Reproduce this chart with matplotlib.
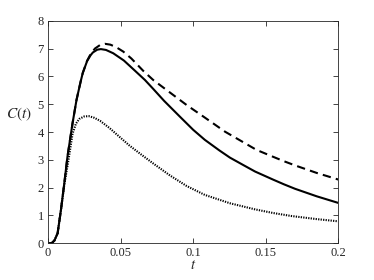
import matplotlib
matplotlib.use('Agg')
import matplotlib.pyplot as plt

plt.rcParams['font.family'] = ['Liberation Serif', 'DejaVu Serif']
plt.rcParams['mathtext.fontset'] = 'stix'

# solid curve
t_solid = [0, 0.0025, 0.0045, 0.0067, 0.009, 0.0113, 0.0135, 0.017, 0.0197, 0.0225,
           0.024, 0.027, 0.0294, 0.031, 0.034, 0.0365, 0.040, 0.045, 0.0523, 0.060,
           0.0668, 0.0725, 0.080, 0.0909, 0.100, 0.108, 0.118, 0.1253, 0.1346, 0.1426,
           0.155, 0.1625, 0.1701, 0.185, 0.200]
c_solid = [0, 0, 0.1, 0.36, 1.2, 2.16, 3.12, 4.32, 5.15, 5.80,
           6.12, 6.55, 6.76, 6.86, 6.96, 6.98, 6.95, 6.83, 6.57, 6.20,
           5.87, 5.55, 5.12, 4.55, 4.08, 3.72, 3.34, 3.08, 2.81, 2.58,
           2.29, 2.12, 1.96, 1.69, 1.45]

# dashed curve
t_dashed = [0, 0.0025, 0.0045, 0.0067, 0.009, 0.0113, 0.0135, 0.017, 0.0197, 0.0225,
            0.024, 0.027, 0.0294, 0.0324, 0.036, 0.0393, 0.043, 0.047, 0.0519, 0.0575,
            0.0656, 0.0725, 0.0835, 0.0955, 0.108, 0.122, 0.1326, 0.1435, 0.155, 0.1625,
            0.1701, 0.185, 0.200]
c_dashed = [0, 0, 0.1, 0.36, 1.2, 2.16, 3.12, 4.32, 5.15, 5.80,
            6.12, 6.56, 6.80, 7.00, 7.13, 7.17, 7.14, 7.05, 6.89, 6.64,
            6.20, 5.87, 5.44, 4.97, 4.52, 4.01, 3.69, 3.36, 3.11, 2.95,
            2.80, 2.53, 2.29]

# dotted curve
t_dotted = [0, 0.0025, 0.0045, 0.0067, 0.009, 0.0113, 0.0142, 0.017, 0.0193, 0.0216,
            0.025, 0.0282, 0.032, 0.036, 0.0425, 0.049, 0.056, 0.064, 0.0725, 0.084,
            0.0955, 0.108, 0.1253, 0.1426, 0.155, 0.1678, 0.185, 0.200]
c_dotted = [0, 0, 0.1, 0.36, 1.2, 2.1, 3.0, 3.94, 4.30, 4.47,
            4.56, 4.57, 4.51, 4.40, 4.14, 3.84, 3.52, 3.20, 2.87, 2.44,
            2.06, 1.74, 1.44, 1.22, 1.09, 0.98, 0.87, 0.79]

x_ticks = [0, 0.05, 0.1, 0.15, 0.2]
x_ticklabels = ['0', '0.05', '0.1', '0.15', '0.2']
y_ticks = [0, 1, 2, 3, 4, 5, 6, 7, 8]

fig = plt.figure(figsize=(3.74, 2.8), dpi=100)
ax = fig.add_axes([0.128, 0.131, 0.777, 0.795])

ax.plot(t_solid, c_solid, color='k', linestyle='-', linewidth=1.5)
ax.plot(t_dashed, c_dashed, color='k', linestyle=(0, (4, 2.5)), linewidth=1.5)
ax.plot(t_dotted, c_dotted, color='k', linestyle=(0, (0.6, 0.6)), linewidth=1.5)

ax.set_xlim(0, 0.2)
ax.set_ylim(0, 8)
ax.set_xticks(x_ticks)
ax.set_xticklabels(x_ticklabels)
ax.set_yticks(y_ticks)

ax.tick_params(direction='in', length=3.5, width=0.6, top=True, right=True,
               labelsize=9, colors='#262626', pad=3)
for s in ax.spines.values():
    s.set_color('#262626')
    s.set_linewidth(0.6)

ax.set_xlabel('$t$', fontsize=10.5, color='#262626', labelpad=0)
ax.set_ylabel('$C(t)$', fontsize=11, color='#262626', rotation=0, labelpad=12)
ax.yaxis.set_label_coords(-0.1, 0.54)

fig.savefig('out.png', dpi=100)
